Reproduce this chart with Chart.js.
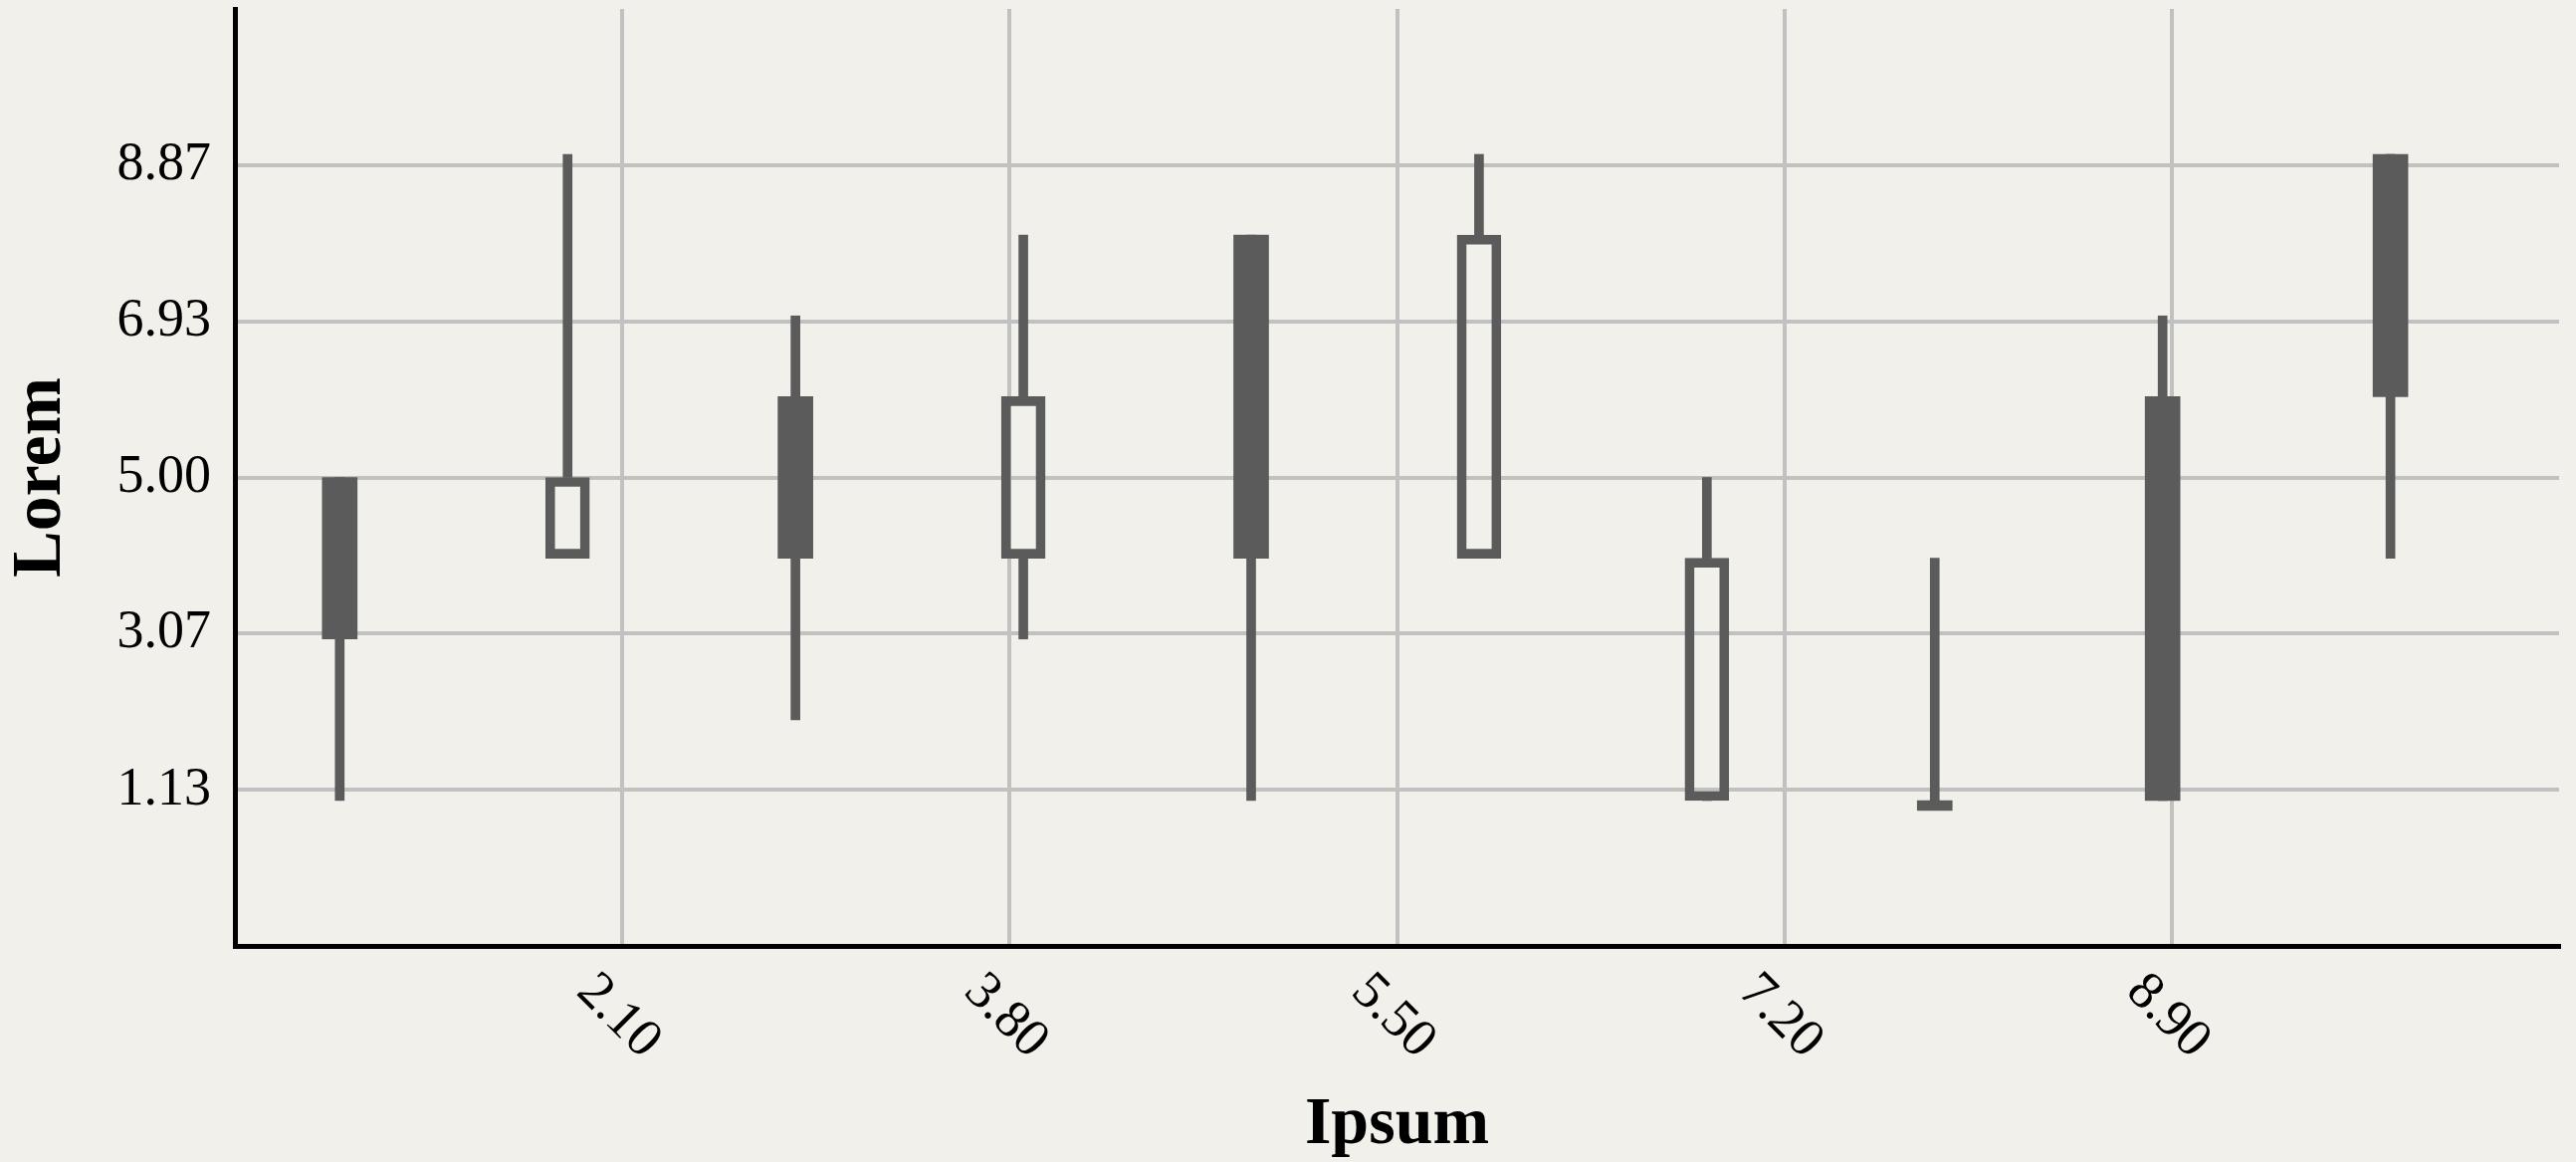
<!DOCTYPE html>
<html>
<head>
<meta charset="utf-8">
<script src="https://cdn.jsdelivr.net/npm/chart.js@4/dist/chart.umd.min.js"></script>
<style>
  html, body { margin: 0; padding: 0; background: #f1f0eb; }
  canvas { display: block; }
</style>
</head>
<body>
<canvas id="candles" width="2588" height="1167"></canvas>
<script>
// candle data
var xValues = [0.86, 1.86, 2.86, 3.86, 4.86, 5.86, 6.86, 7.86, 8.86, 9.86]
var openValues = [5, 4, 6, 4, 8, 4, 1, 1, 6, 9]
var closeValues = [3, 5, 4, 6, 4, 8, 4, 1, 1, 6]
var highValues = [5, 9, 7, 8, 8, 9, 5, 4, 7, 9]
var lowValues = [1, 4, 2, 3, 1, 4, 1, 1, 1, 4]
var xTicks = [2.10, 3.80, 5.50, 7.20, 8.90]
var yTicks = [1.13, 3.07, 5.00, 6.93, 8.87]

var candleColor = '#5b5b5b'
var fontFamily = '"Liberation Serif", "DejaVu Serif", serif'

// wicks: one piece above the body, one below
var wickData = []
xValues.forEach(function (x, i) {
    var top = Math.max(openValues[i], closeValues[i])
    var bottom = Math.min(openValues[i], closeValues[i])
    wickData.push({ x: x, y: [top, highValues[i]] })
    wickData.push({ x: x, y: [lowValues[i], bottom] })
})
var upData = [], downData = []
xValues.forEach(function (x, i) {
    var point = { x: x, y: [openValues[i], closeValues[i]] }
    if (closeValues[i] > openValues[i]) upData.push(point)
    else downData.push(point)
})

// x tick labels turned clockwise, which chart.js can't do itself
var slantedTicks = {
    id: 'slantedTicks',
    afterDraw: function (chart) {
        var scale = chart.scales.x
        var ctx = chart.ctx
        ctx.save()
        ctx.font = '54px ' + fontFamily
        ctx.fillStyle = '#000'
        ctx.textAlign = 'center'
        ctx.textBaseline = 'middle'
        scale.ticks.forEach(function (t) {
            var px = scale.getPixelForValue(t.value)
            ctx.save()
            ctx.translate(px - 4, scale.top + 71)
            ctx.rotate(Math.PI / 4)
            ctx.fillText(t.value.toFixed(2), 0, 0)
            ctx.restore()
        })
        ctx.restore()
    }
}

new Chart(document.getElementById('candles').getContext('2d'), {
    type: 'bar',
    data: {
        datasets: [
            {
                label: 'up',
                data: upData,
                backgroundColor: 'rgba(0,0,0,0)',
                borderColor: candleColor,
                borderWidth: 9,
                borderSkipped: false,
                barThickness: 44,
                grouped: false,
                order: 1
            },
            {
                label: 'down',
                data: downData,
                backgroundColor: candleColor,
                borderWidth: 0,
                barThickness: 35,
                minBarLength: 10,
                grouped: false,
                order: 1
            },
            {
                label: 'wick',
                data: wickData,
                backgroundColor: candleColor,
                borderWidth: 0,
                barThickness: 9,
                grouped: false,
                order: 3
            }
        ]
    },
    options: {
        responsive: false,
        animation: false,
        layout: { padding: { left: 0, right: 17, top: 9, bottom: 0 } },
        plugins: {
            legend: { display: false },
            tooltip: { enabled: false }
        },
        scales: {
            x: {
                type: 'linear',
                min: 0.4,
                max: 10.6,
                offset: false,
                afterBuildTicks: function (scale) {
                    scale.ticks = xTicks.map(function (v) { return { value: v } })
                },
                afterFit: function (scale) {
                    scale.height = 217
                    scale.paddingLeft = 0
                    scale.paddingRight = 0
                },
                ticks: { display: false },
                grid: { offset: false, color: '#c1c1c1', lineWidth: 4, drawTicks: false },
                border: { display: true, color: '#000', width: 5 },
                title: {
                    display: true,
                    text: 'Ipsum',
                    color: '#000',
                    font: { family: fontFamily, size: 68, weight: 'bold', lineHeight: 1.08 },
                    padding: 0
                }
            },
            y: {
                min: -0.8,
                max: 10.8,
                afterBuildTicks: function (scale) {
                    scale.ticks = yTicks.map(function (v) { return { value: v } })
                },
                afterFit: function (scale) {
                    scale.width = 236
                    scale.paddingTop = 0
                    scale.paddingBottom = 0
                },
                ticks: {
                    color: '#000',
                    padding: 24,
                    font: { family: fontFamily, size: 54 },
                    callback: function (v) { return Number(v).toFixed(2) }
                },
                grid: { color: '#c1c1c1', lineWidth: 4, drawTicks: false },
                border: { display: true, color: '#000', width: 5 },
                title: {
                    display: true,
                    text: 'Lorem',
                    color: '#000',
                    font: { family: fontFamily, size: 70, weight: 'bold', lineHeight: 1.12 },
                    padding: { top: 3, bottom: 0 }
                }
            }
        }
    },
    plugins: [slantedTicks]
})
</script>
</body>
</html>
